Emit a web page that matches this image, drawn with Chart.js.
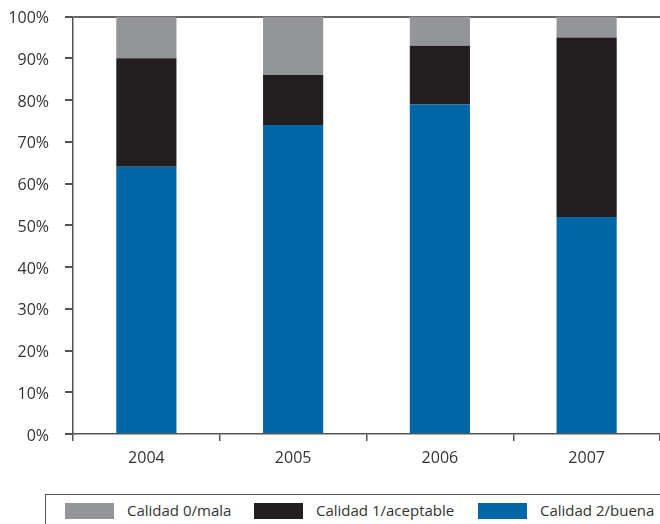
<!DOCTYPE html>
<html><head><meta charset="utf-8">
<script src="https://cdn.jsdelivr.net/npm/chart.js@4.4.1/dist/chart.umd.min.js"></script>
<style>
html,body{margin:0;padding:0;background:#fff;width:660px;height:524px;overflow:hidden;}
#wrap{position:absolute;left:0;top:-9px;width:660px;height:489px;}
#legend{position:absolute;left:45px;top:494px;width:640px;height:40px;border:1px solid #555;box-sizing:border-box;font-family:"Open Sans",sans-serif;font-size:15px;color:#333;}
.item{position:absolute;top:7px;height:18px;line-height:18px;white-space:nowrap;}
.sw{position:absolute;left:0;top:1px;width:49px;height:16px;}
.lb{position:absolute;left:62px;top:-1px;}
</style></head><body>
<div id="wrap"><canvas id="c" width="660" height="489"></canvas></div>
<div id="legend"></div>
<script>
const categories = ["2004","2005","2006","2007"];
const calidad2 = [64, 74, 79, 52];
const calidad1 = [26, 12, 14, 43];
const calidad0 = [10, 14, 7, 5];
const seriesNames = ["Calidad 0/mala","Calidad 1/aceptable","Calidad 2/buena"];
const colors = {"Calidad 0/mala":"#939598","Calidad 1/aceptable":"#231f20","Calidad 2/buena":"#0066a6"};
const font = {family:'"Open Sans", sans-serif', size:16};
const ds = [
  {label:seriesNames[2], data:calidad2, backgroundColor:colors[seriesNames[2]]},
  {label:seriesNames[1], data:calidad1, backgroundColor:colors[seriesNames[1]]},
  {label:seriesNames[0], data:calidad0, backgroundColor:colors[seriesNames[0]]}
].map(d=>Object.assign(d,{borderWidth:0,categoryPercentage:0.82,barPercentage:0.5}));
new Chart(document.getElementById('c'),{
  type:'bar',
  data:{labels:categories,datasets:ds},
  options:{
    responsive:false,animation:false,
    layout:{padding:{top:7,right:0,left:0,bottom:0}},
    plugins:{legend:{display:false},tooltip:{enabled:false}},
    scales:{
      x:{stacked:true,
         grid:{drawOnChartArea:false,drawTicks:true,tickLength:7,tickColor:'#555',lineWidth:1.5},
         border:{display:true,color:'#555',width:1.5},
         ticks:{color:'#333',font:font,padding:8},
         afterFit:s=>{s.height=46;}},
      y:{stacked:true,min:0,max:100,
         grid:{color:ctx=>ctx.tick&&ctx.tick.value===100?'#666':'rgba(0,0,0,0)',lineWidth:2,drawTicks:true,tickLength:8,tickColor:'#555'},
         border:{display:true,color:'#555',width:1.5},
         ticks:{stepSize:10,color:'#333',font:font,padding:16,labelOffset:2,callback:v=>v+'%'},
         afterFit:s=>{s.width=73;}}
    }
  }
});
const leg=document.getElementById('legend');
const lefts=[19,208,432];
seriesNames.forEach((n,i)=>{
  const it=document.createElement('div');it.className='item';it.style.left=lefts[i]+'px';
  const sw=document.createElement('div');sw.className='sw';sw.style.background=colors[n];
  const lb=document.createElement('div');lb.className='lb';lb.textContent=n;
  it.appendChild(sw);it.appendChild(lb);leg.appendChild(it);
});
</script></body></html>
